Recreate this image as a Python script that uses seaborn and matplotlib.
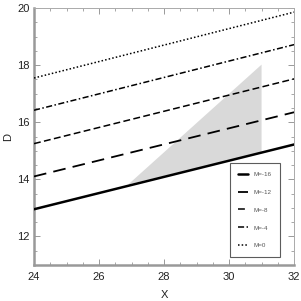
import pandas as pd
import matplotlib.pyplot as plt
import seaborn as sns

# line ends (X=24 and X=32)
x_ends = [24, 32]
m_labels = ['M=-16', 'M=-12', 'M=-8', 'M=-4', 'M=0']
d_start = [12.95, 14.10, 15.25, 16.42, 17.55]
d_end = [15.22, 16.35, 17.52, 18.72, 19.86]

# shaded region corners
shade_x = [26.9, 31.0, 31.0]
shade_y = [13.82, 18.02, 14.94]

styles = {
    'M=-16': dict(ls='-', lw=1.8),
    'M=-12': dict(ls=(0, (7, 4)), lw=1.3),
    'M=-8': dict(ls=(0, (4.5, 2.2)), lw=1.1),
    'M=-4': dict(ls=(0, (4, 1.6, 1, 1.6)), lw=1.1),
    'M=0': dict(ls=(0, (1, 1.4)), lw=1.1),
}

rows = []
for lab, a, b in zip(m_labels, d_start, d_end):
    rows.append({'X': x_ends[0], 'D': a, 'M': lab})
    rows.append({'X': x_ends[1], 'D': b, 'M': lab})
df = pd.DataFrame(rows)

sns.set_style('ticks')
plt.rcParams['font.family'] = ['Liberation Sans', 'DejaVu Sans']

fig = plt.figure(figsize=(3.01, 3.01), dpi=100)
ax = fig.add_axes([0.113, 0.12, 0.864, 0.853])

ax.fill(shade_x, shade_y, color='#d9d9d9', lw=0, zorder=1)

for lab in m_labels:
    sub = df[df['M'] == lab]
    sns.lineplot(data=sub, x='X', y='D', ax=ax, color='black', label=lab,
                 linestyle=styles[lab]['ls'], linewidth=styles[lab]['lw'], zorder=3)

ax.set_xlim(24, 32)
ax.set_ylim(11, 20)
ax.set_xticks([24, 26, 28, 30, 32])
ax.set_yticks([12, 14, 16, 18, 20])
ax.set_xticks([x / 2 for x in range(48, 65)], minor=True)
ax.set_yticks([y / 2 for y in range(22, 41)], minor=True)
ax.tick_params(which='both', direction='in', top=True, right=True, colors='#999999',
               labelcolor='#222222', labelsize=8, pad=3)
ax.tick_params(which='major', length=4, width=0.7)
ax.tick_params(which='minor', length=2.5, width=0.6)
ax.tick_params(axis='x', pad=5)

for side in ['top', 'right']:
    ax.spines[side].set_color('#aaaaaa')
    ax.spines[side].set_linewidth(0.7)
for side in ['left', 'bottom']:
    ax.spines[side].set_color('#999999')
    ax.spines[side].set_linewidth(1.8)

ax.set_xlabel('X', fontsize=8, color='#222222', labelpad=6)
ax.set_ylabel('D', fontsize=8, color='#222222', labelpad=3)

leg = ax.legend(loc='lower right', bbox_to_anchor=(0.946, 0.03), borderaxespad=0,
                fontsize=4.5, frameon=True, fancybox=False, handlelength=1.5,
                labelspacing=2.0, borderpad=1.4, handletextpad=0.9)
leg.get_frame().set_edgecolor('#333333')
leg.get_frame().set_linewidth(0.8)
for t in leg.get_texts():
    t.set_color('#555555')

fig.savefig('out.png', dpi=100)
